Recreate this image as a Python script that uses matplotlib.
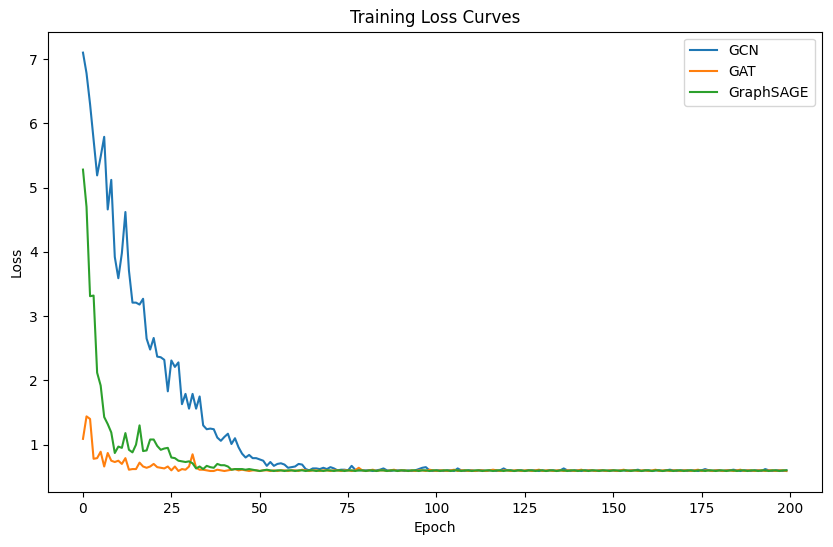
import matplotlib
matplotlib.use("Agg")
import matplotlib.pyplot as plt

# per-epoch training loss (epochs 0..199)
gcn_loss = [
    7.10, 6.78, 6.30, 5.74, 5.19, 5.48, 5.79, 4.66, 5.12, 3.92,
    3.59, 3.98, 4.62, 3.71, 3.21, 3.21, 3.18, 3.27, 2.65, 2.48,
    2.66, 2.37, 2.36, 2.32, 1.83, 2.31, 2.21, 2.28, 1.63, 1.79,
    1.56, 1.79, 1.56, 1.75, 1.30, 1.24, 1.25, 1.24, 1.11, 1.06,
    1.12, 1.17, 1.01, 1.10, 0.96, 0.86, 0.80, 0.84, 0.79, 0.79,
    0.77, 0.75, 0.67, 0.73, 0.67, 0.70, 0.71, 0.69, 0.64, 0.65,
    0.66, 0.70, 0.69, 0.62, 0.60, 0.63, 0.63, 0.62, 0.64, 0.62,
    0.65, 0.63, 0.60, 0.61, 0.61, 0.60, 0.67, 0.61, 0.60, 0.60,
    0.60, 0.60, 0.59, 0.60, 0.61, 0.63, 0.60, 0.59, 0.60, 0.60,
    0.60, 0.59, 0.60, 0.59, 0.60, 0.62, 0.64, 0.65, 0.60, 0.59,
    0.60, 0.60, 0.59, 0.60, 0.60, 0.59, 0.63, 0.60, 0.59, 0.60,
    0.60, 0.59, 0.60, 0.60, 0.59, 0.60, 0.60, 0.59, 0.60, 0.63,
    0.60, 0.60, 0.59, 0.60, 0.60, 0.59, 0.60, 0.60, 0.60, 0.59,
    0.60, 0.59, 0.60, 0.60, 0.59, 0.60, 0.63, 0.60, 0.59, 0.60,
    0.60, 0.59, 0.60, 0.60, 0.60, 0.59, 0.60, 0.60, 0.59, 0.60,
    0.60, 0.59, 0.60, 0.60, 0.59, 0.60, 0.60, 0.61, 0.59, 0.60,
    0.60, 0.59, 0.60, 0.60, 0.59, 0.60, 0.61, 0.60, 0.59, 0.60,
    0.60, 0.59, 0.60, 0.60, 0.59, 0.60, 0.62, 0.60, 0.59, 0.60,
    0.60, 0.59, 0.60, 0.60, 0.61, 0.60, 0.59, 0.60, 0.60, 0.59,
    0.60, 0.60, 0.59, 0.62, 0.60, 0.59, 0.60, 0.60, 0.59, 0.60,
]

gat_loss = [
    1.09, 1.44, 1.40, 0.78, 0.79, 0.89, 0.66, 0.87, 0.75, 0.73,
    0.75, 0.70, 0.79, 0.61, 0.62, 0.62, 0.72, 0.66, 0.64, 0.66,
    0.70, 0.65, 0.64, 0.63, 0.66, 0.60, 0.66, 0.59, 0.62, 0.61,
    0.66, 0.85, 0.64, 0.61, 0.61, 0.60, 0.59, 0.59, 0.61, 0.60,
    0.59, 0.60, 0.61, 0.62, 0.60, 0.61, 0.60, 0.59, 0.60, 0.60,
    0.59, 0.60, 0.60, 0.59, 0.60, 0.59, 0.60, 0.60, 0.59, 0.60,
    0.60, 0.59, 0.61, 0.60, 0.59, 0.60, 0.60, 0.59, 0.60, 0.60,
    0.59, 0.60, 0.60, 0.59, 0.60, 0.60, 0.59, 0.60, 0.64, 0.60,
    0.59, 0.60, 0.61, 0.59, 0.60, 0.60, 0.59, 0.60, 0.61, 0.59,
    0.60, 0.60, 0.59, 0.60, 0.59, 0.60, 0.60, 0.59, 0.61, 0.60,
    0.59, 0.60, 0.60, 0.59, 0.60, 0.61, 0.59, 0.60, 0.60, 0.59,
    0.60, 0.59, 0.60, 0.60, 0.59, 0.60, 0.61, 0.60, 0.59, 0.60,
    0.60, 0.59, 0.60, 0.60, 0.59, 0.60, 0.60, 0.59, 0.60, 0.61,
    0.59, 0.60, 0.60, 0.59, 0.60, 0.60, 0.59, 0.60, 0.60, 0.59,
    0.60, 0.61, 0.59, 0.60, 0.60, 0.59, 0.60, 0.60, 0.59, 0.60,
    0.60, 0.59, 0.60, 0.61, 0.59, 0.60, 0.60, 0.59, 0.60, 0.60,
    0.59, 0.60, 0.61, 0.59, 0.60, 0.60, 0.59, 0.60, 0.60, 0.59,
    0.60, 0.60, 0.59, 0.60, 0.61, 0.59, 0.60, 0.60, 0.59, 0.60,
    0.60, 0.59, 0.60, 0.60, 0.59, 0.60, 0.61, 0.59, 0.60, 0.60,
    0.59, 0.60, 0.60, 0.59, 0.60, 0.60, 0.59, 0.60, 0.60, 0.59,
]

sage_loss = [
    5.28, 4.70, 3.31, 3.32, 2.12, 1.92, 1.43, 1.32, 1.19, 0.87,
    0.97, 0.95, 1.18, 0.92, 0.88, 1.00, 1.30, 0.90, 0.91, 1.08,
    1.08, 0.98, 0.92, 0.94, 0.95, 0.80, 0.79, 0.75, 0.74, 0.73,
    0.74, 0.71, 0.63, 0.66, 0.62, 0.67, 0.65, 0.64, 0.70, 0.68,
    0.68, 0.66, 0.61, 0.62, 0.62, 0.62, 0.61, 0.62, 0.61, 0.60,
    0.59, 0.60, 0.61, 0.60, 0.59, 0.60, 0.60, 0.59, 0.60, 0.60,
    0.59, 0.60, 0.60, 0.59, 0.60, 0.60, 0.59, 0.60, 0.59, 0.60,
    0.60, 0.59, 0.60, 0.60, 0.59, 0.60, 0.60, 0.59, 0.60, 0.60,
    0.59, 0.60, 0.60, 0.59, 0.60, 0.60, 0.59, 0.60, 0.60, 0.59,
    0.60, 0.60, 0.59, 0.60, 0.60, 0.59, 0.60, 0.60, 0.59, 0.60,
    0.60, 0.59, 0.60, 0.60, 0.59, 0.60, 0.60, 0.59, 0.60, 0.60,
    0.59, 0.60, 0.60, 0.59, 0.60, 0.60, 0.59, 0.60, 0.60, 0.59,
    0.60, 0.60, 0.59, 0.60, 0.60, 0.59, 0.60, 0.60, 0.59, 0.60,
    0.60, 0.59, 0.60, 0.60, 0.59, 0.60, 0.60, 0.59, 0.60, 0.60,
    0.59, 0.60, 0.60, 0.59, 0.60, 0.60, 0.59, 0.60, 0.60, 0.59,
    0.60, 0.60, 0.59, 0.60, 0.60, 0.59, 0.60, 0.60, 0.59, 0.60,
    0.60, 0.59, 0.60, 0.60, 0.59, 0.60, 0.60, 0.59, 0.60, 0.60,
    0.59, 0.60, 0.60, 0.59, 0.60, 0.60, 0.59, 0.60, 0.60, 0.59,
    0.60, 0.60, 0.59, 0.60, 0.60, 0.59, 0.60, 0.60, 0.59, 0.60,
    0.60, 0.59, 0.60, 0.60, 0.59, 0.60, 0.60, 0.59, 0.60, 0.60,
]

epochs = list(range(len(gcn_loss)))

fig = plt.figure(figsize=(8.33, 5.47), dpi=100)
ax = fig.add_axes([0.0574, 0.1007, 0.9289, 0.8413])

ax.plot(epochs, gcn_loss, label='GCN')
ax.plot(epochs, gat_loss, label='GAT')
ax.plot(epochs, sage_loss, label='GraphSAGE')

ax.set_title('Training Loss Curves')
ax.set_xlabel('Epoch')
ax.set_ylabel('Loss')
ax.legend(loc='upper right')

fig.savefig('out.png', dpi=100)
